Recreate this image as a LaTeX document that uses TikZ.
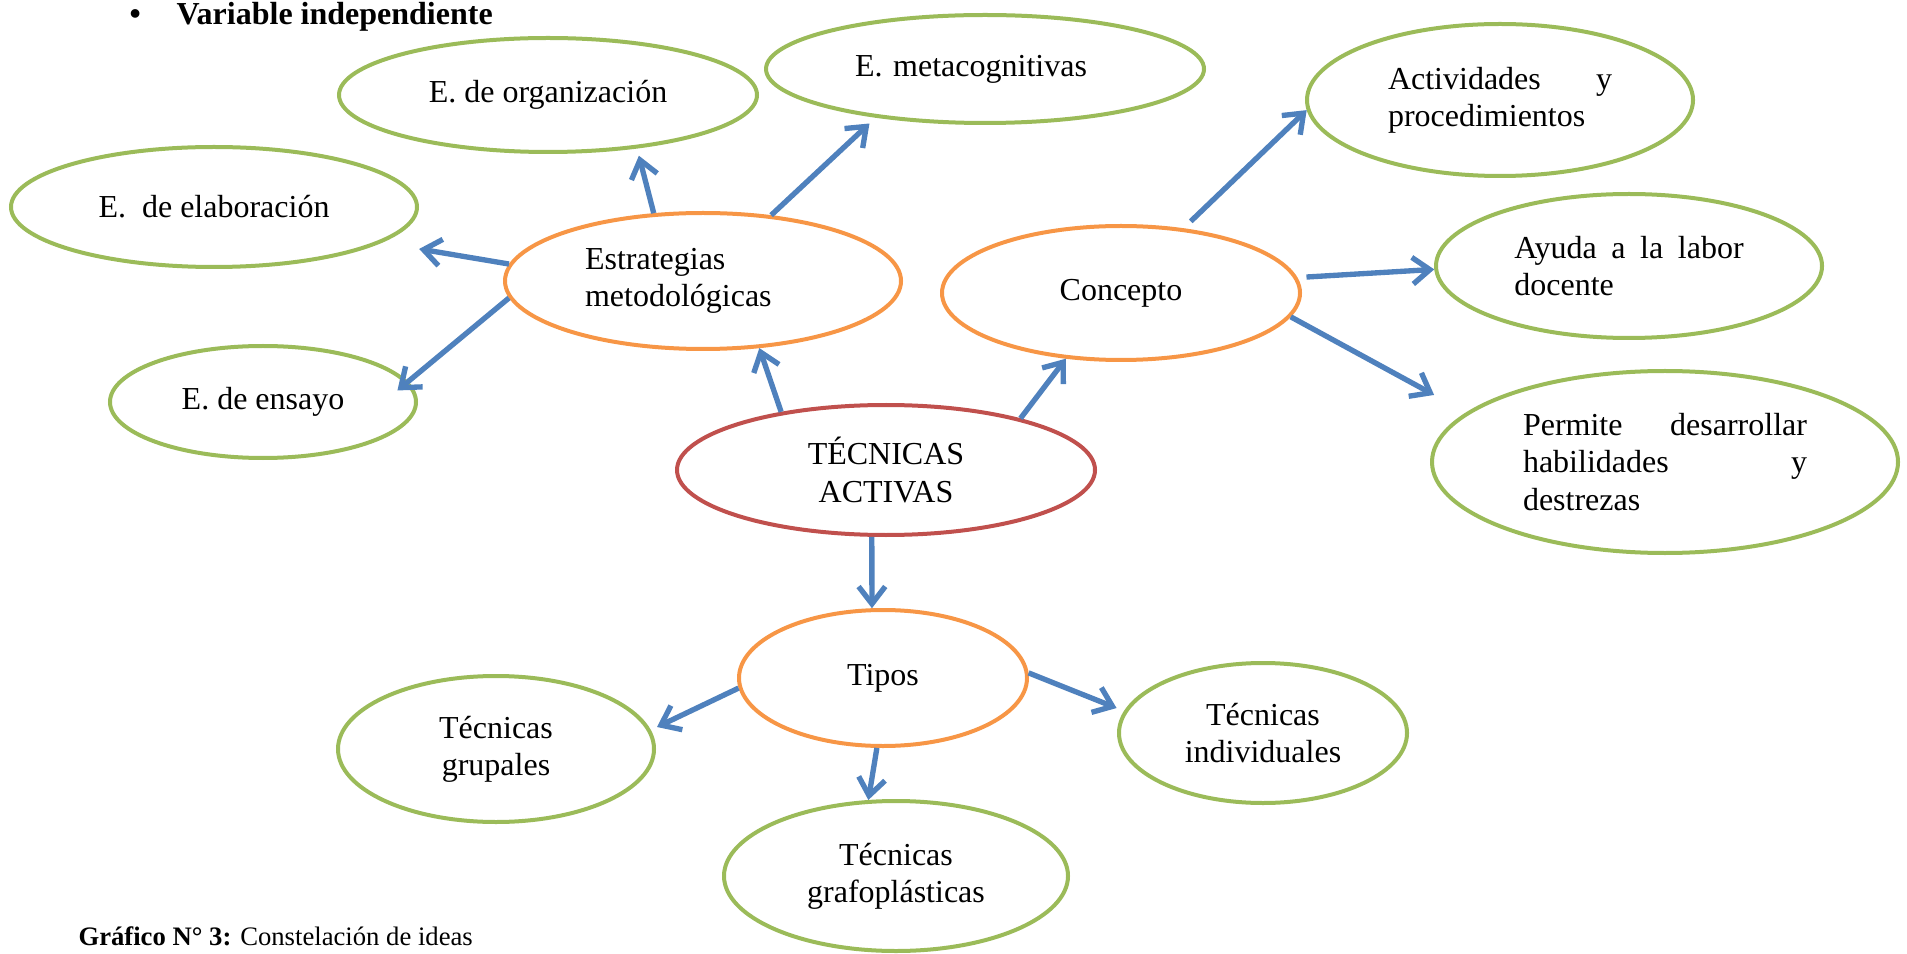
\documentclass[tikz,border=0pt]{standalone}
\usepackage{fontspec}
\setmainfont{Liberation Serif}
\usetikzlibrary{arrows.meta,shapes.geometric}

\definecolor{leafgreen}{HTML}{9BBB59}
\definecolor{huborange}{HTML}{F79646}
\definecolor{rootred}{HTML}{C0504D}
\definecolor{linkblue}{HTML}{4F81BD}

\begin{document}
\begin{tikzpicture}[x=0.375pt,y=-0.375pt,
        bubble/.style={ellipse,draw,line width=1.5pt,inner sep=0pt,align=center,font=\fontsize{12}{14}\selectfont},
        root/.style={bubble,draw=rootred},
        hub/.style={bubble,draw=huborange},
        leaf/.style={bubble,draw=leafgreen},
        link/.style={draw=linkblue,line width=2pt,-{Straight Barb[length=6.5pt,width=10pt]}}]
            \useasboundingbox (0,0) rectangle (1907,954);

            \node (bul) at (129,25) [anchor=base west,inner sep=0pt,font=\fontsize{12}{14}\selectfont\bfseries] {\textbullet};
            \node (vind) at (176,25) [anchor=base west,inner sep=0pt,font=\fontsize{12}{14}\selectfont\bfseries] {Variable independiente};
            \node (cap) at (78,945) [anchor=base west,inner sep=0pt,font=\fontsize{10}{12}\selectfont] {\textbf{Gráfico N° 3:} Constelación de ideas};

            \node (ta) at (886,470) [root,minimum width=156.75pt,minimum height=48.75pt] {TÉCNICAS\\ACTIVAS};
            \node (estr) at (703,281) [hub,minimum width=148.5pt,minimum height=51pt,text width=88.5pt,align=left] {Estrategias\\metodológicas};
            \node (conc) at (1121,293) [hub,minimum width=134.25pt,minimum height=50.25pt] {Concepto};
            \node (tipos) at (883,678) [hub,minimum width=108pt,minimum height=51pt] {Tipos};

            \node (org) at (548,95) [leaf,minimum width=156.75pt,minimum height=42.75pt] {E. de organización};
            \node (meta) at (985,69) [leaf,minimum width=164.25pt,minimum height=40.5pt,text width=97.5pt,align=left] {E. metacognitivas};
            \node (elab) at (214,207) [leaf,minimum width=152.25pt,minimum height=45pt] {E.\ \ de elaboración};
            \node (ens) at (263,402) [leaf,minimum width=114.75pt,minimum height=42pt] {E. de ensayo};

            \node (act) at (1500,100) [leaf,minimum width=144.75pt,minimum height=57pt,text width=84pt,align=left] {Actividades\hfill y\\procedimientos};
            \node (ayu) at (1629,266) [leaf,minimum width=144.75pt,minimum height=54pt,text width=86pt,align=left] {Ayuda\hfill a\hfill la\hfill labor\\docente};
            \node (perm) at (1665,462) [leaf,minimum width=174.75pt,minimum height=68.25pt,text width=106.5pt,align=left] {Permite\hfill desarrollar\\habilidades\hfill y\\destrezas};

            \node (grup) at (496,749) [leaf,minimum width=118.5pt,minimum height=54.75pt] {Técnicas\\grupales};
            \node (indiv) at (1263,733) [leaf,minimum width=108pt,minimum height=52.5pt] {Técnicas\\individuales};
            \node (graf) at (896,876) [leaf,minimum width=129pt,minimum height=56.25pt] {Técnicas\\grafoplásticas};

            \draw [link] (ta.-102) -- (tipos.99);
            \draw [link] (ta.151.5) -- (estr.-50);
            \draw [link] (ta.21) -- (conc.-130);
            \draw [link,shorten >=2.8pt] (estr.126) -- (org.-31);
            \draw [link,shorten >=3.2pt] (estr.44.5) -- (meta.-156);
            \draw [link,shorten >=14.25pt] (estr.175.6) -- (elab.-12);
            \draw [link,shorten >=-5.2pt] (estr.-175) -- (ens.8);
            \draw [link,shorten <=3.75pt] (conc.46.7) -- (act.-177);
            \draw [link,shorten <=3.4pt] (conc.5.1) -- (ayu.-179);
            \draw [link,shorten >=13.7pt] (conc.-8.2) -- (perm.166);
            \draw [link,shorten >=2.6pt] (tipos.-176.5) -- (grup.7);
            \draw [link] (tipos.-95) -- (graf.110);
            \draw [link,shorten >=3pt] (tipos.2.8) -- (indiv.171.4);

        \end{tikzpicture}
\end{document}
